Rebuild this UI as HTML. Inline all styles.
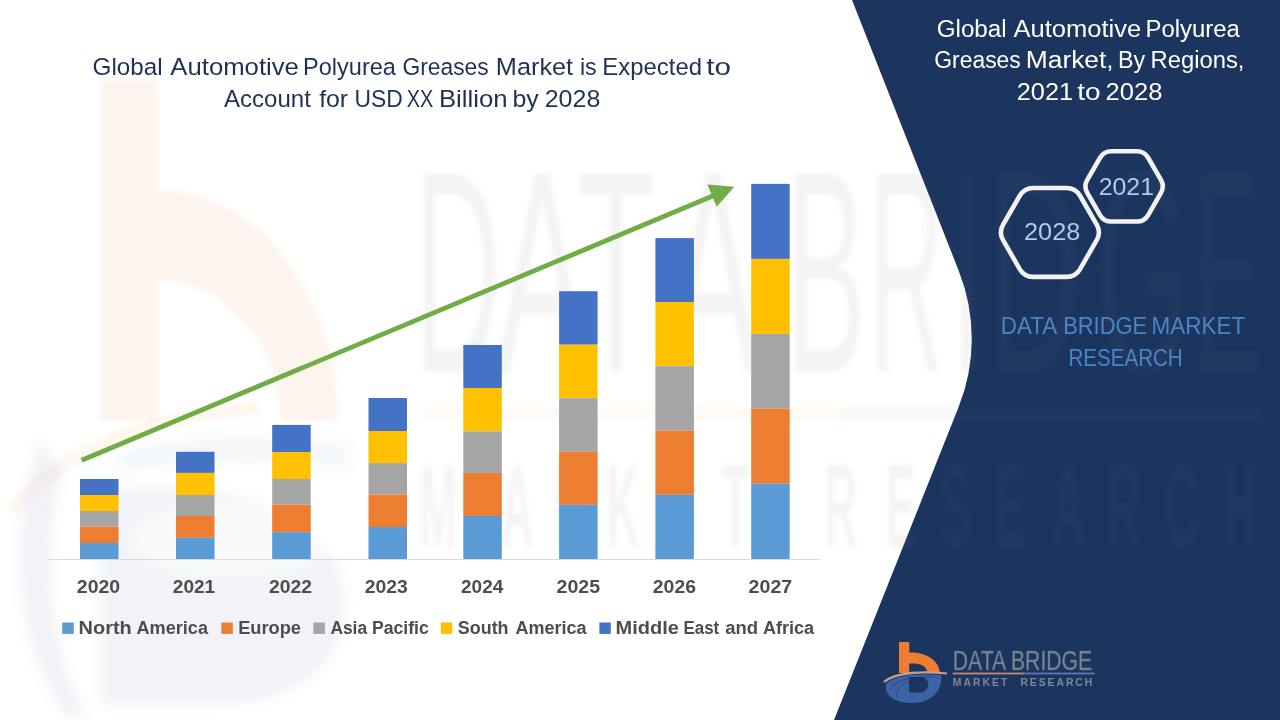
<!DOCTYPE html>
<html><head><meta charset="utf-8">
<style>
html,body{margin:0;padding:0;background:#fff;}
body{width:1280px;height:720px;overflow:hidden;position:relative;font-family:"Liberation Sans",sans-serif;}
svg{position:absolute;left:0;top:0;}
</style></head>
<body>
<svg width="1280" height="720" viewBox="0 0 1280 720" font-family="Liberation Sans, sans-serif">
<rect x="0" y="0" width="1280" height="720" fill="#ffffff"/>
<path d="M852 0 L1280 0 L1280 720 L834 720 L958.7 406.8 A184 184 0 0 0 958.9 271.2 Z" fill="#1c355e"/>
<defs>
<clipPath id="cpW"><path d="M0 0 H852 L958.9 271.2 A184 184 0 0 1 958.7 406.8 L834 720 H0 Z"/></clipPath>
<clipPath id="cpN"><path d="M852 0 L1280 0 L1280 720 L834 720 L958.7 406.8 A184 184 0 0 0 958.9 271.2 Z"/></clipPath>
<filter id="bl" x="-5%" y="-5%" width="110%" height="110%"><feGaussianBlur stdDeviation="2.2"/></filter>
<filter id="bl2" x="-10%" y="-10%" width="120%" height="120%"><feGaussianBlur stdDeviation="5"/></filter>
<g id="wmText">
<g font-size="289">
<text transform="translate(414.0,0) scale(0.415,1)" y="372">D</text>
<text transform="translate(496.5,0) scale(0.471,1)" y="372">A</text>
<text transform="translate(577.4,0) scale(0.439,1)" y="372">T</text>
<text transform="translate(667.5,0) scale(0.471,1)" y="372">A</text>
<text transform="translate(786.0,0) scale(0.415,1)" y="372">B</text>
<text transform="translate(869.4,0) scale(0.357,1)" y="372">R</text>
<text transform="translate(949.0,0) scale(0.481,1)" y="372">I</text>
<text transform="translate(987.2,0) scale(0.450,1)" y="372">D</text>
<text transform="translate(1095.8,0) scale(0.415,1)" y="372">G</text>
<text transform="translate(1192.5,0) scale(0.353,1)" y="372">E</text>
</g>
<g transform="scale(0.38,1)" font-size="119" font-weight="bold"><text y="547" x="1103.5 1318.4 1454.5 1596.6 1743.9 1898.9 2168.9 2330.8 2475.5 2619.6 2768.4 2915 3066.4 3220.2">MARKETRESEARCH</text></g>
</g>
</defs>
<g filter="url(#bl)">
<path d="M100 80 H157.5 V190 A180.5 231 0 0 1 338 421 H280 A122.5 141 0 0 0 157.5 280 V421 H100 Z" fill="#ed7d31" opacity="0.085"/>
<g filter="url(#bl2)" fill="#5a78a8">
<path d="M100 705 H215 C300 705 348 660 345 600 C342 540 290 500 200 490 C150 485 110 490 100 495 Z" opacity="0.08"/>
<path d="M40 440 C5 540 15 650 68 718 L88 718 C50 650 42 560 62 470 Z" opacity="0.08"/>
<path d="M120 450 C200 430 300 435 350 445 L350 470 C300 460 200 455 120 475 Z" opacity="0.06"/>
<ellipse cx="230" cy="540" rx="95" ry="32" fill="#ffffff" opacity="0.6"/>
</g>
<path d="M10 512 Q90 420 260 408" fill="none" stroke="#ed7d31" stroke-width="14" opacity="0.06"/>
<rect x="420" y="407" width="425" height="13" fill="#ed7d31" opacity="0.045"/>
<rect x="845" y="407" width="417" height="13" fill="#4472c4" opacity="0.05" clip-path="url(#cpW)"/>
<rect x="845" y="407" width="417" height="13" fill="#ffffff" opacity="0.02" clip-path="url(#cpN)"/>
<g clip-path="url(#cpW)"><use href="#wmText" fill="#808080" opacity="0.085"/></g>
<g clip-path="url(#cpN)"><use href="#wmText" fill="#ffffff" opacity="0.025"/></g>
</g>
<g fill="#1e3158">
<text x="92.56" y="74.5" font-size="24.5" textLength="69.99" lengthAdjust="spacingAndGlyphs">Global</text>
<text x="170.3" y="74.5" font-size="24.5" textLength="128.61" lengthAdjust="spacingAndGlyphs">Automotive</text>
<text x="303.08" y="74.5" font-size="24.5" textLength="92.87" lengthAdjust="spacingAndGlyphs">Polyurea</text>
<text x="402.44" y="74.5" font-size="24.5" textLength="86.25" lengthAdjust="spacingAndGlyphs">Greases</text>
<text x="495.84" y="74.5" font-size="24.5" textLength="77.3" lengthAdjust="spacingAndGlyphs">Market</text>
<text x="579.94" y="74.5" font-size="24.5" textLength="16.75" lengthAdjust="spacingAndGlyphs">is</text>
<text x="602.35" y="74.5" font-size="24.5" textLength="99.66" lengthAdjust="spacingAndGlyphs">Expected</text>
<text x="706.2" y="74.5" font-size="24.5" textLength="24.73" lengthAdjust="spacingAndGlyphs">to</text>
<text x="224.0" y="106.5" font-size="24.5" textLength="86.87" lengthAdjust="spacingAndGlyphs">Account</text>
<text x="319.15" y="106.5" font-size="24.5" textLength="29.0" lengthAdjust="spacingAndGlyphs">for</text>
<text x="354.53" y="106.5" font-size="24.5" textLength="48.32" lengthAdjust="spacingAndGlyphs">USD</text>
<text x="406.79" y="106.5" font-size="24.5" textLength="26.57" lengthAdjust="spacingAndGlyphs">XX</text>
<text x="438.9" y="106.5" font-size="24.5" textLength="68.6" lengthAdjust="spacingAndGlyphs">Billion</text>
<text x="512.48" y="106.5" font-size="24.5" textLength="26.25" lengthAdjust="spacingAndGlyphs">by</text>
<text x="544.72" y="106.5" font-size="24.5" textLength="55.6" lengthAdjust="spacingAndGlyphs">2028</text>
</g>
<rect x="48" y="559" width="772" height="1" fill="#d9d9d9"/>
<g>
<rect x="80" y="479" width="38.5" height="16" fill="#4472c4"/>
<rect x="80" y="495" width="38.5" height="16" fill="#ffc000"/>
<rect x="80" y="511" width="38.5" height="15.7" fill="#a5a5a5"/>
<rect x="80" y="526.7" width="38.5" height="16.3" fill="#ed7d31"/>
<rect x="80" y="543" width="38.5" height="16" fill="#5b9bd5"/>
<rect x="176" y="451.8" width="38.5" height="21.1" fill="#4472c4"/>
<rect x="176" y="472.9" width="38.5" height="22.1" fill="#ffc000"/>
<rect x="176" y="495" width="38.5" height="21" fill="#a5a5a5"/>
<rect x="176" y="516" width="38.5" height="21.8" fill="#ed7d31"/>
<rect x="176" y="537.8" width="38.5" height="21.2" fill="#5b9bd5"/>
<rect x="272.2" y="424.9" width="38.5" height="27.2" fill="#4472c4"/>
<rect x="272.2" y="452.1" width="38.5" height="26.9" fill="#ffc000"/>
<rect x="272.2" y="479" width="38.5" height="25.7" fill="#a5a5a5"/>
<rect x="272.2" y="504.7" width="38.5" height="27.5" fill="#ed7d31"/>
<rect x="272.2" y="532.2" width="38.5" height="26.8" fill="#5b9bd5"/>
<rect x="368.5" y="398" width="38.5" height="33" fill="#4472c4"/>
<rect x="368.5" y="431" width="38.5" height="32.1" fill="#ffc000"/>
<rect x="368.5" y="463.1" width="38.5" height="31.5" fill="#a5a5a5"/>
<rect x="368.5" y="494.6" width="38.5" height="32.4" fill="#ed7d31"/>
<rect x="368.5" y="527" width="38.5" height="32" fill="#5b9bd5"/>
<rect x="463.3" y="345" width="38.5" height="43" fill="#4472c4"/>
<rect x="463.3" y="388" width="38.5" height="43.3" fill="#ffc000"/>
<rect x="463.3" y="431.3" width="38.5" height="41.6" fill="#a5a5a5"/>
<rect x="463.3" y="472.9" width="38.5" height="43.1" fill="#ed7d31"/>
<rect x="463.3" y="516" width="38.5" height="43" fill="#5b9bd5"/>
<rect x="559.1" y="291.2" width="38.5" height="53.5" fill="#4472c4"/>
<rect x="559.1" y="344.7" width="38.5" height="53.5" fill="#ffc000"/>
<rect x="559.1" y="398.2" width="38.5" height="53.6" fill="#a5a5a5"/>
<rect x="559.1" y="451.8" width="38.5" height="53.0" fill="#ed7d31"/>
<rect x="559.1" y="504.8" width="38.5" height="54.2" fill="#5b9bd5"/>
<rect x="655.4" y="238.1" width="38.5" height="63.9" fill="#4472c4"/>
<rect x="655.4" y="302" width="38.5" height="64.2" fill="#ffc000"/>
<rect x="655.4" y="366.2" width="38.5" height="64.5" fill="#a5a5a5"/>
<rect x="655.4" y="430.7" width="38.5" height="64.1" fill="#ed7d31"/>
<rect x="655.4" y="494.8" width="38.5" height="64.2" fill="#5b9bd5"/>
<rect x="751.2" y="183.9" width="38.5" height="75.0" fill="#4472c4"/>
<rect x="751.2" y="258.9" width="38.5" height="75.1" fill="#ffc000"/>
<rect x="751.2" y="334" width="38.5" height="74.5" fill="#a5a5a5"/>
<rect x="751.2" y="408.5" width="38.5" height="75.2" fill="#ed7d31"/>
<rect x="751.2" y="483.7" width="38.5" height="75.3" fill="#5b9bd5"/>
</g>
<line x1="81.7" y1="460.3" x2="715" y2="195" stroke="#70ad47" stroke-width="4.8"/>
<path d="M707.4 184.6 L734.4 186.7 L716.7 206.8 Z" fill="#70ad47"/>
<g fill="#4d4d4d" font-weight="bold">
<text x="76.83" y="592.9" font-size="19" textLength="43.31" lengthAdjust="spacingAndGlyphs">2020</text>
<text x="172.85" y="592.9" font-size="19" textLength="42.37" lengthAdjust="spacingAndGlyphs">2021</text>
<text x="268.94" y="592.9" font-size="19" textLength="43.1" lengthAdjust="spacingAndGlyphs">2022</text>
<text x="364.73" y="592.9" font-size="19" textLength="43.15" lengthAdjust="spacingAndGlyphs">2023</text>
<text x="461.05" y="592.9" font-size="19" textLength="42.27" lengthAdjust="spacingAndGlyphs">2024</text>
<text x="556.53" y="592.9" font-size="19" textLength="43.61" lengthAdjust="spacingAndGlyphs">2025</text>
<text x="652.83" y="592.9" font-size="19" textLength="43.15" lengthAdjust="spacingAndGlyphs">2026</text>
<text x="748.63" y="592.9" font-size="19" textLength="43.57" lengthAdjust="spacingAndGlyphs">2027</text>
</g>
<rect x="62.2" y="622.5" width="11.6" height="11.4" fill="#5b9bd5"/>
<rect x="221.4" y="622.5" width="11.4" height="11.4" fill="#ed7d31"/>
<rect x="313.3" y="622.5" width="11.6" height="11.4" fill="#a5a5a5"/>
<rect x="440.8" y="622.5" width="11.4" height="11.4" fill="#ffc000"/>
<rect x="599.4" y="622.5" width="11.4" height="11.4" fill="#4472c4"/>
<g fill="#4d4d4d" font-weight="bold">
<text x="78.64" y="633.6" font-size="18.3" textLength="53.19" lengthAdjust="spacingAndGlyphs">North</text>
<text x="136.51" y="633.6" font-size="18.3" textLength="71.46" lengthAdjust="spacingAndGlyphs">America</text>
<text x="238.15" y="633.6" font-size="18.3" textLength="62.88" lengthAdjust="spacingAndGlyphs">Europe</text>
<text x="330.43" y="633.6" font-size="18.3" textLength="36.68" lengthAdjust="spacingAndGlyphs">Asia</text>
<text x="371.89" y="633.6" font-size="18.3" textLength="56.98" lengthAdjust="spacingAndGlyphs">Pacific</text>
<text x="457.81" y="633.6" font-size="18.3" textLength="50.75" lengthAdjust="spacingAndGlyphs">South</text>
<text x="515.51" y="633.6" font-size="18.3" textLength="71.06" lengthAdjust="spacingAndGlyphs">America</text>
<text x="615.53" y="633.6" font-size="18.3" textLength="63.32" lengthAdjust="spacingAndGlyphs">Middle</text>
<text x="683.49" y="633.6" font-size="18.3" textLength="35.75" lengthAdjust="spacingAndGlyphs">East</text>
<text x="725.19" y="633.6" font-size="18.3" textLength="32.9" lengthAdjust="spacingAndGlyphs">and</text>
<text x="762.91" y="633.6" font-size="18.3" textLength="51.26" lengthAdjust="spacingAndGlyphs">Africa</text>
</g>
<g fill="#ffffff">
<text x="936.7" y="36.6" font-size="23.3" textLength="69.95" lengthAdjust="spacingAndGlyphs">Global</text>
<text x="1013.48" y="36.6" font-size="23.3" textLength="127.67" lengthAdjust="spacingAndGlyphs">Automotive</text>
<text x="1145.44" y="36.6" font-size="23.3" textLength="94.5" lengthAdjust="spacingAndGlyphs">Polyurea</text>
<text x="934.27" y="68" font-size="23.3" textLength="86.51" lengthAdjust="spacingAndGlyphs">Greases</text>
<text x="1025.73" y="68" font-size="23.3" textLength="87.98" lengthAdjust="spacingAndGlyphs">Market,</text>
<text x="1118.0" y="68" font-size="23.3" textLength="27.19" lengthAdjust="spacingAndGlyphs">By</text>
<text x="1150.45" y="68" font-size="23.3" textLength="94.04" lengthAdjust="spacingAndGlyphs">Regions,</text>
<text x="1016.74" y="100.2" font-size="23.3" textLength="56.33" lengthAdjust="spacingAndGlyphs">2021</text>
<text x="1077.2" y="100.2" font-size="23.3" textLength="23.32" lengthAdjust="spacingAndGlyphs">to</text>
<text x="1105.53" y="100.2" font-size="23.3" textLength="56.91" lengthAdjust="spacingAndGlyphs">2028</text>
</g>
<g fill="none" stroke="#f2f2f2" stroke-width="4.6">
<path d="M1096.70 224.61 Q1101.20 232.40 1096.70 240.19 L1080.05 269.03 Q1075.55 276.83 1066.55 276.83 L1033.25 276.83 Q1024.25 276.83 1019.75 269.03 L1003.10 240.19 Q998.60 232.40 1003.10 224.61 L1019.75 195.77 Q1024.25 187.97 1033.25 187.97 L1066.55 187.97 Q1075.55 187.97 1080.05 195.77 Z"/>
<path d="M1160.95 179.90 Q1164.70 186.40 1160.95 192.90 L1148.15 215.07 Q1144.40 221.56 1136.90 221.56 L1111.30 221.56 Q1103.80 221.56 1100.05 215.07 L1087.25 192.90 Q1083.50 186.40 1087.25 179.90 L1100.05 157.73 Q1103.80 151.24 1111.30 151.24 L1136.90 151.24 Q1144.40 151.24 1148.15 157.73 Z"/>
</g>
<g fill="#b0cbec">
<text x="1024.04" y="240.4" font-size="23.3" textLength="56.33" lengthAdjust="spacingAndGlyphs">2028</text>
<text x="1098.66" y="194.8" font-size="23.3" textLength="55.39" lengthAdjust="spacingAndGlyphs">2021</text>
</g>
<g fill="#4a86c6">
<text x="1000.84" y="334" font-size="24" textLength="56.35" lengthAdjust="spacingAndGlyphs">DATA</text>
<text x="1063.17" y="334" font-size="24" textLength="84.05" lengthAdjust="spacingAndGlyphs">BRIDGE</text>
<text x="1151.53" y="334" font-size="24" textLength="93.75" lengthAdjust="spacingAndGlyphs">MARKET</text>
<text x="1068.49" y="365.9" font-size="24" textLength="114.22" lengthAdjust="spacingAndGlyphs">RESEARCH</text>
</g>
<g>
<path fill-rule="evenodd" fill="#3d62a6" d="M886 684 C892 676 915 673 941 675 C943 690 932 703 912 703 C896 703 884 696 886 684 Z M909 677 L922 677 C930 678 931 691 921 692.5 L909 692.5 Z"/>
<path d="M890 690 C894 680 912 676 937 677 M897 698 C895 688 905 681 918 680" fill="none" stroke="#1c355e" stroke-width="0.9" opacity="0.55"/>
<path fill="#ed7d31" d="M899 642 H909.2 V652.5 C926 652 939 660 940 673 H927.6 C927 667 921 663.5 915 663.5 H909.2 V673 H899 Z"/>
<path d="M884 682 C895 673 920 671 947 673.5" fill="none" stroke="#c9a08e" stroke-width="2.2"/>
<text x="952.75" y="670.1" font-size="27.6" textLength="139.5" lengthAdjust="spacingAndGlyphs" fill="#7f8898" stroke="#5a6478" stroke-width="0.6">DATA BRIDGE</text>
<rect x="952.75" y="672.6" width="71.2" height="1.8" fill="#c08878"/>
<rect x="1024" y="672.6" width="70.7" height="1.8" fill="#5a78b8"/>
<text x="952.75" y="686.2" font-size="10.4" font-weight="bold" textLength="54.6" lengthAdjust="spacing" fill="#7f8898">MARKET</text>
<text x="1020.4" y="686.2" font-size="10.4" font-weight="bold" textLength="71.9" lengthAdjust="spacing" fill="#7f8898">RESEARCH</text>
</g>
</svg>
</body></html>
